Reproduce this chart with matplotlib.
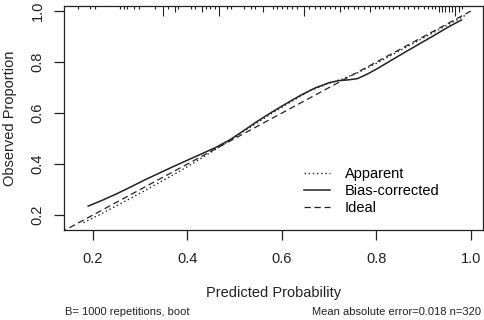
import numpy as np
import matplotlib
matplotlib.use("Agg")
import matplotlib.pyplot as plt

plt.rcParams['font.family'] = ['Liberation Sans', 'DejaVu Sans']

# calibration curves
app_x = [0.18, 0.22, 0.26, 0.30, 0.34, 0.38, 0.42, 0.46, 0.50, 0.54, 0.58,
         0.62, 0.66, 0.70, 0.73, 0.76, 0.80, 0.84, 0.88, 0.92, 0.96, 0.99]
app_y = [0.170, 0.207, 0.246, 0.286, 0.327, 0.368, 0.412, 0.458, 0.505, 0.553, 0.600,
         0.645, 0.688, 0.717, 0.735, 0.758, 0.795, 0.835, 0.875, 0.915, 0.955, 0.985]

bc_x = [0.19, 0.22, 0.25, 0.28, 0.31, 0.34, 0.37, 0.40, 0.43, 0.46, 0.49, 0.52,
        0.55, 0.58, 0.61, 0.64, 0.67, 0.70, 0.72, 0.74, 0.76, 0.78, 0.80, 0.83,
        0.86, 0.89, 0.92, 0.95, 0.98]
bc_y = [0.235, 0.258, 0.283, 0.310, 0.338, 0.364, 0.390, 0.415, 0.440, 0.465, 0.495, 0.532,
        0.570, 0.605, 0.638, 0.670, 0.698, 0.719, 0.727, 0.730, 0.735, 0.752, 0.772, 0.805,
        0.838, 0.870, 0.902, 0.935, 0.965]

ideal = [0, 1]

# distribution of predicted values (spikes at top), relative heights
rug_x = [0.168, 0.194, 0.204, 0.258, 0.265, 0.272, 0.288, 0.297, 0.331, 0.348,
         0.359, 0.374, 0.381, 0.408, 0.417, 0.432, 0.439, 0.448, 0.458, 0.466,
         0.484, 0.493, 0.519, 0.535, 0.543, 0.561, 0.582, 0.589, 0.600, 0.611,
         0.621, 0.632, 0.646, 0.657, 0.670, 0.681, 0.692, 0.702, 0.713, 0.723,
         0.731, 0.741, 0.752, 0.762, 0.773, 0.787, 0.797, 0.805, 0.815, 0.826,
         0.836, 0.847, 0.858, 0.868, 0.879, 0.889, 0.900, 0.910, 0.917, 0.924,
         0.932, 0.939, 0.946, 0.953, 0.960, 0.967, 0.974, 0.981]
rug_h = [1, 1, 1, 1, 1, 1, 1, 1, 1, 3,
         1, 2, 1, 1, 1, 2, 1, 1, 1, 3,
         1, 1, 1, 1, 1, 2, 1, 1, 1, 1,
         1, 1, 3, 1, 1, 1, 1, 1, 1, 2,
         1, 1, 1, 1, 1, 2, 1, 1, 1, 1,
         1, 1, 1, 1, 1, 1, 1, 1, 1, 1,
         2, 2, 2, 2, 2, 3, 2, 1]

ticks = [0.2, 0.4, 0.6, 0.8, 1.0]
col = "#222222"

fig = plt.figure(figsize=(4.84, 3.2), dpi=100)
ax = fig.add_axes([0.132, 0.281, 0.865, 0.701])

ax.plot(ideal, ideal, color=col, lw=0.9, linestyle=(0, (5, 3)), label="Ideal")
ax.plot(app_x, app_y, color=col, lw=1.0, linestyle=(0, (1, 2)), label="Apparent")
ax.plot(bc_x, bc_y, color=col, lw=1.1, label="Bias-corrected")

ax.vlines(rug_x, [1 - 0.015 * h for h in rug_h], 1, color=col, lw=0.8,
          transform=ax.get_xaxis_transform())

ax.set_xlim(0.1386, 1.0248)
ax.set_ylim(0.141, 1.0208)
ax.set_xticks(ticks)
ax.set_yticks(ticks)
ax.set_xticklabels([f"{t:.1f}" for t in ticks])
ax.set_yticklabels([f"{t:.1f}" for t in ticks], rotation=90, va="center")
ax.tick_params(length=7, width=0.9, color=col, labelsize=10.5, labelcolor=col)
ax.tick_params(axis="x", pad=9)
ax.tick_params(axis="y", pad=7)
for s in ax.spines.values():
    s.set_color(col)
    s.set_linewidth(0.9)

ax.set_xlabel("Predicted Probability", fontsize=10.5, color=col, labelpad=14)
ax.set_ylabel("Observed Proportion", fontsize=10.5, color=col, labelpad=10)

h, l = ax.get_legend_handles_labels()
order = [1, 2, 0]
ax.legend([h[i] for i in order], [l[i] for i in order], frameon=False,
          loc="upper left", bbox_to_anchor=(0.628, 0.478), bbox_transform=fig.transFigure,
          fontsize=10.5, handlelength=1.8, handletextpad=1.0, labelspacing=0.2,
          borderpad=0, borderaxespad=0)

fig.text(65 / 484, 1 - 311.7 / 320, "B= 1000 repetitions, boot", fontsize=8,
         color=col, ha="left", va="center")
fig.text(481 / 484, 1 - 311.7 / 320, "Mean absolute error=0.018 n=320", fontsize=8,
         color=col, ha="right", va="center")

fig.savefig("out.png", dpi=100)
